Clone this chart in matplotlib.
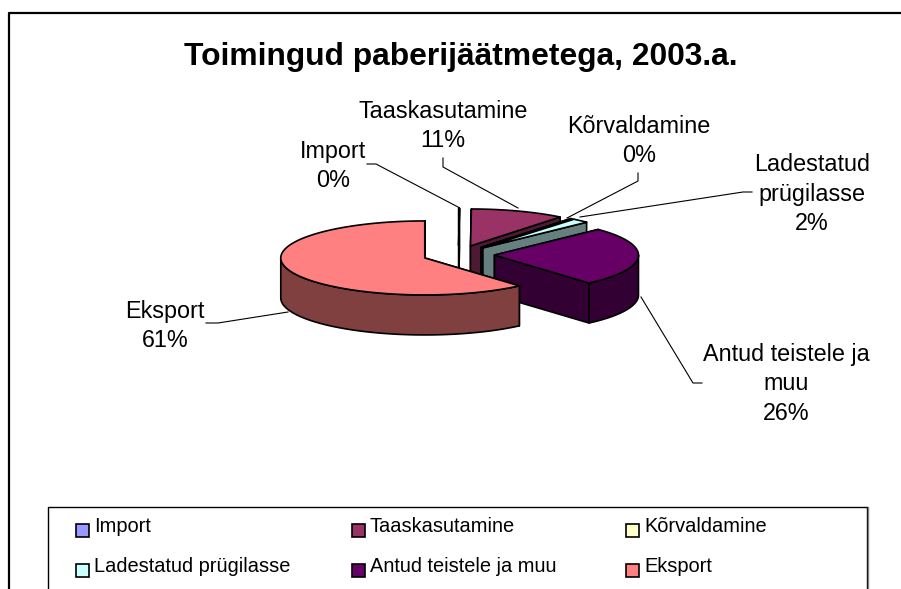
import matplotlib
matplotlib.use("Agg")
import matplotlib.pyplot as plt
import numpy as np
from matplotlib.patches import Polygon, Rectangle

plt.rcParams['font.family'] = ['Liberation Sans', 'DejaVu Sans']

title = "Toimingud paberijäätmetega, 2003.a."
names = ["Import", "Taaskasutamine", "Kõrvaldamine", "Ladestatud prügilasse", "Antud teistele ja muu", "Eksport"]
label_lines = ["Import", "Taaskasutamine", "Kõrvaldamine", "Ladestatud\nprügilasse", "Antud teistele ja\nmuu", "Eksport"]
values = [0.1, 10.6, 0.2, 1.9, 25.8, 61.4]
colors = ["#9999FF", "#993366", "#FFFFCC", "#CCFFFF", "#660066", "#FF8080"]
walls = ["#4D4D80", "#4D1A33", "#808066", "#668080", "#330033", "#804040"]

# pie geometry, in image pixels
cx, cy = 458.5, 254.7
rx, ry = 144, 37
depth = 40
explode = 0.25

label_pos = [(333, 166), (443, 126), (639, 141), (812, 194), (786, 384), (165, 326)]
leaders = [
    [(367, 164), (376, 164), (458, 207)],
    [(443, 158), (443, 167), (518, 208)],
    [(638, 173), (638, 181), (567, 218)],
    [(752, 192), (743, 192), (580, 217)],
    [(702, 383), (693, 383), (641, 297)],
    [(206, 323), (218, 323), (288, 312)],
]

fig = plt.figure(figsize=(9.01, 5.89), dpi=100)
ax = fig.add_axes([0, 0, 1, 1])
ax.set_xlim(0, 901)
ax.set_ylim(589, 0)
ax.axis("off")

# chart frame, only left and top are inside the image
ax.plot([9, 9, 901], [589, 13, 13], color="k", lw=1.6)


def rim(x0, y0, a, b):
    t = np.radians(np.linspace(a, b, max(int(b - a) + 2, 2)))
    return np.column_stack([x0 + rx * np.sin(t), y0 - ry * np.cos(t)])


def slab(pts):
    return np.vstack([pts, pts[::-1] + [0, depth]])


edges = np.cumsum([0] + values) / sum(values) * 360
for i in range(len(values)):
    a, b = edges[i], edges[i + 1]
    mid = np.radians((a + b) / 2)
    x0 = cx + explode * rx * np.sin(mid)
    y0 = cy - explode * ry * np.cos(mid)
    arc = rim(x0, y0, a, b)
    apex = np.array([[x0, y0]])
    style = dict(edgecolor="k", lw=1.2, joinstyle="round")
    # radial walls first, the top of the slice covers what is hidden
    for end in (arc[0], arc[-1]):
        ax.add_patch(Polygon(slab(np.vstack([apex, [end]])), facecolor=walls[i], **style))
    lo, hi = max(a, 90), min(b, 270)
    if hi > lo:
        ax.add_patch(Polygon(slab(rim(x0, y0, lo, hi)), facecolor=walls[i], **style))
    ax.add_patch(Polygon(np.vstack([apex, arc]), facecolor=colors[i], **style))

for i in range(len(values)):
    pct = round(values[i] / sum(values) * 100)
    ax.text(*label_pos[i], f"{label_lines[i]}\n{pct}%", ha="center", va="center",
            fontsize=16.8, linespacing=1.38, color="k")
    xs, ys = zip(*leaders[i])
    ax.plot(xs, ys, color="k", lw=0.8)

ax.text(461, 57, title, ha="center", va="center", fontsize=22.9, fontweight="bold")

# legend box
ax.plot([48, 48, 867, 867], [589, 507, 507, 589], color="k", lw=1)
ax.plot([868, 868], [507, 589], color="#808080", lw=1)
col_x = [76, 352, 626]
row_y = [530, 570]
for i, name in enumerate(names):
    x = col_x[i % 3]
    y = row_y[i // 3]
    ax.add_patch(Rectangle((x, y - 6.5), 13, 13, facecolor=colors[i], edgecolor="k", lw=1.2))
    ax.text(x + 18, y - 3, name, va="center", fontsize=14.4, color="k")

fig.savefig("out.png", dpi=100)
